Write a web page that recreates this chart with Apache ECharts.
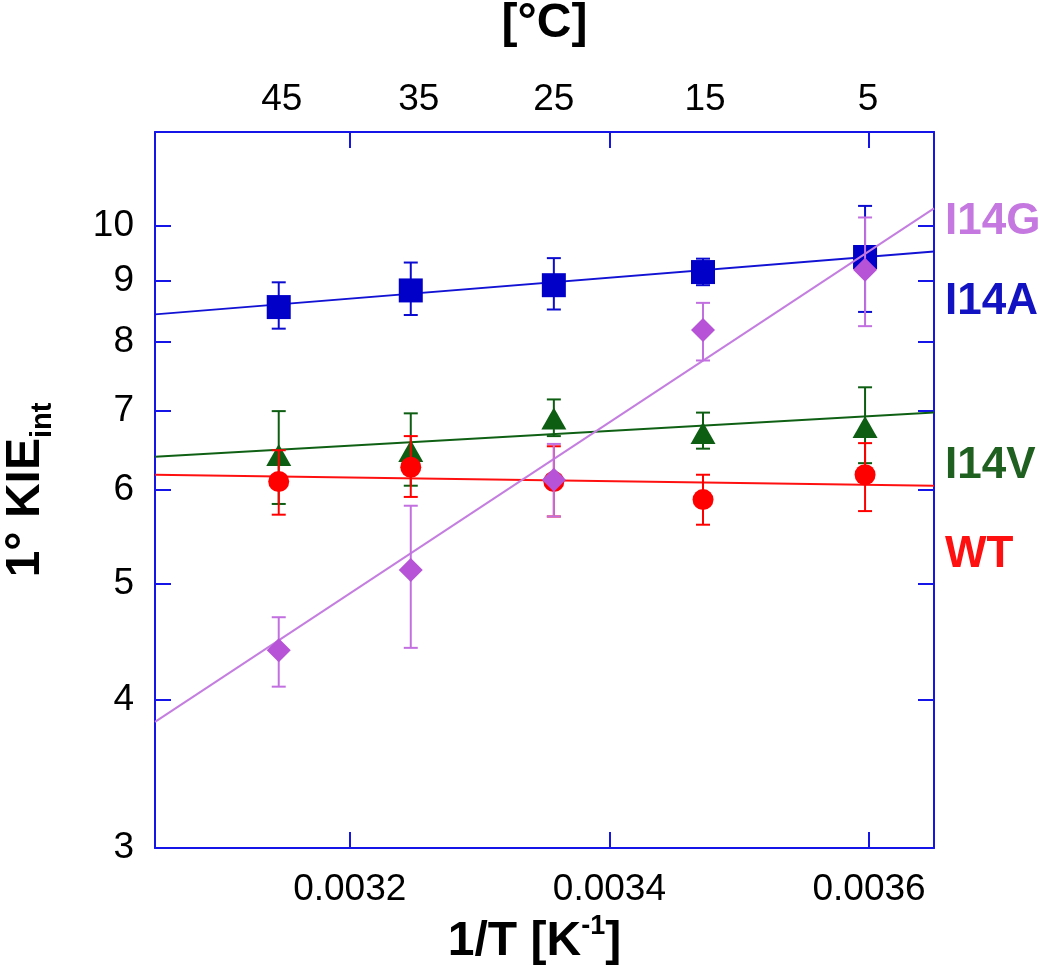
<!DOCTYPE html>
<html><head><meta charset="utf-8">
<script src="https://cdn.jsdelivr.net/npm/echarts@6/dist/echarts.min.js"></script>
<style>html,body{margin:0;padding:0;background:#fff}#c{width:1050px;height:974px}</style>
</head><body><div id="c"></div>
<script>
// ---- data ----
const invT = [0.0031453, 0.0032470, 0.0033572, 0.0034721, 0.0035969];
const celsiusLabels = ['45', '35', '25', '15', '5'];
const celsiusTickPos = [0.0031476, 0.0032532, 0.0033572, 0.0034736, 0.0035992];
const xTicks = [0.0032, 0.0034, 0.0036];
const yTicks = [3, 4, 5, 6, 7, 8, 9, 10];
const fitX = [0.00305, 0.00365];

const i14aKIE  = [8.55, 8.83, 8.92, 9.15, 9.42];
const i14aLow  = [8.20, 8.42, 8.51, 8.92, 8.47];
const i14aHigh = [8.97, 9.32, 9.40, 9.39, 10.40];
const i14aFit  = [8.43, 9.52];

const i14vKIE  = [6.42, 6.47, 6.89, 6.70, 6.78];
const i14vLow  = [5.84, 6.05, 6.66, 6.50, 6.32];
const i14vHigh = [6.99, 6.96, 7.15, 6.97, 7.32];
const i14vFit  = [6.40, 6.97];

const wtKIE  = [6.10, 6.27, 6.10, 5.89, 6.18];
const wtLow  = [5.72, 5.92, 5.70, 5.61, 5.76];
const wtHigh = [6.48, 6.66, 6.53, 6.18, 6.57];
const wtFit  = [6.18, 6.05];

const i14gKIE  = [4.40, 5.14, 6.12, 8.18, 9.19];
const i14gLow  = [4.10, 4.42, 5.70, 7.71, 8.24];
const i14gHigh = [4.69, 5.82, 6.56, 8.62, 10.17];
const i14gFit  = [3.83, 10.35];

// ---- styling ----
const F = '"Liberation Sans", Arial, sans-serif';
const AX = '#1515e8';

function zip(a, b) { return a.map((v, i) => [v, b[i]]); }
function errData(lo, hi) { return invT.map((x, i) => [x, lo[i], hi[i]]); }

function fitSeries(vals, color, z) {
  return { type: 'line', data: zip(fitX, vals), showSymbol: false, symbol: 'none',
    lineStyle: { color: color, width: 2 }, z: z, silent: true };
}
function errSeries(lo, hi, color, z) {
  return {
    type: 'custom', data: errData(lo, hi), z: z, silent: true,
    encode: { x: 0, y: [1, 2] },
    renderItem: function (params, api) {
      const x = api.value(0);
      const a = api.coord([x, api.value(1)]);
      const b = api.coord([x, api.value(2)]);
      const hw = 7;
      const st = { stroke: color, lineWidth: 2 };
      return { type: 'group', children: [
        { type: 'line', shape: { x1: a[0], y1: a[1], x2: b[0], y2: b[1] }, style: st },
        { type: 'line', shape: { x1: a[0] - hw, y1: a[1], x2: a[0] + hw, y2: a[1] }, style: st },
        { type: 'line', shape: { x1: b[0] - hw, y1: b[1], x2: b[0] + hw, y2: b[1] }, style: st }
      ]};
    }
  };
}
function markSeries(vals, color, symbol, size, z) {
  return { type: 'scatter', data: zip(invT, vals), symbol: symbol, symbolSize: size,
    itemStyle: { color: color, opacity: 1 }, z: z, silent: true };
}

const chart = echarts.init(document.getElementById('c'), null, { renderer: 'canvas' });

const tickStyle = { color: AX, width: 2 };
const lineSty = { color: AX, width: 2 };

chart.setOption({
  animation: false,
  backgroundColor: '#fff',
  grid: { left: 155, right: 116, top: 132, bottom: 126, containLabel: false, outerBoundsMode: 'none' },
  xAxis: [
    {
      type: 'value', position: 'bottom', min: 0.00305, max: 0.00365,
      axisLine: { show: true, lineStyle: lineSty },
      axisTick: { show: true, inside: true, length: 16, customValues: xTicks, lineStyle: tickStyle },
      axisLabel: { customValues: xTicks, formatter: v => v.toFixed(4), color: '#000', fontSize: 37, fontFamily: F, margin: 23 },
      splitLine: { show: false },
      name: '{a|1/T [K}{s|-1}{a|]}', nameLocation: 'middle', nameGap: 60,
      nameTextStyle: { padding: [0, 20, 0, 0], rich: {
        a: { fontSize: 48, fontWeight: 'bold', fontFamily: F, color: '#000', lineHeight: 58 },
        s: { fontSize: 27, fontWeight: 'bold', fontFamily: F, color: '#000', verticalAlign: 'top' }
      } }
    },
    {
      type: 'value', position: 'top', min: 0.00305, max: 0.00365,
      axisLine: { show: true, lineStyle: lineSty },
      axisTick: { show: true, inside: true, length: 16, customValues: xTicks, lineStyle: tickStyle },
      axisLabel: { customValues: celsiusTickPos, color: '#000', fontSize: 37, fontFamily: F, margin: 14,
        formatter: function (v) {
          let bi = 0, bd = Infinity;
          celsiusTickPos.forEach((p, i) => { const d = Math.abs(p - v); if (d < bd) { bd = d; bi = i; } });
          return celsiusLabels[bi];
        } },
      splitLine: { show: false },
      name: '[°C]', nameLocation: 'middle', nameGap: 84,
      nameTextStyle: { fontSize: 48, fontWeight: 'bold', fontFamily: F, color: '#000' }
    }
  ],
  yAxis: [
    {
      type: 'log', logBase: 10, position: 'left', min: 3, max: 12,
      axisLine: { show: true, lineStyle: lineSty },
      axisTick: { show: true, inside: true, length: 16, customValues: yTicks, lineStyle: tickStyle },
      axisLabel: { customValues: yTicks, color: '#000', fontSize: 37, fontFamily: F, margin: 21 },
      splitLine: { show: false },
      name: '{a|1° KIE}{b|int}', nameLocation: 'middle', nameRotate: 90, nameGap: 98,
      nameTextStyle: { rich: {
        a: { fontSize: 48, fontWeight: 'bold', fontFamily: F, color: '#000', lineHeight: 62 },
        b: { fontSize: 29, fontWeight: 'bold', fontFamily: F, color: '#000', verticalAlign: 'bottom' }
      } }
    },
    {
      type: 'log', logBase: 10, position: 'right', min: 3, max: 12,
      axisLine: { show: true, lineStyle: lineSty },
      axisTick: { show: true, inside: true, length: 16, customValues: yTicks, lineStyle: tickStyle },
      axisLabel: { show: false },
      splitLine: { show: false }
    }
  ],
  series: [
    fitSeries(i14aFit, '#1212d4', 2),
    errSeries(i14aLow, i14aHigh, '#0c0cd0', 3),
    markSeries(i14aKIE, '#0000c8', 'rect', 24, 4),

    fitSeries(i14vFit, '#0f6014', 5),
    errSeries(i14vLow, i14vHigh, '#0d5e12', 6),
    markSeries(i14vKIE, '#0d5e12', 'triangle', [25, 22], 7),

    fitSeries(wtFit, '#ff1010', 8),
    errSeries(wtLow, wtHigh, '#ff0000', 9),
    markSeries(wtKIE, '#ff0000', 'circle', 21, 10),

    fitSeries(i14gFit, '#c47ee0', 11),
    errSeries(i14gLow, i14gHigh, '#c270e0', 12),
    markSeries(i14gKIE, '#b653d6', 'diamond', [24, 24], 13)
  ],
  graphic: [
    { type: 'text', x: 945, y: 222, style: { text: 'I14G', font: 'bold 44px ' + F, fill: '#c478e0', verticalAlign: 'middle' } },
    { type: 'text', x: 945, y: 302, style: { text: 'I14A', font: 'bold 44px ' + F, fill: '#1212c2', verticalAlign: 'middle' } },
    { type: 'text', x: 945, y: 466, style: { text: 'I14V', font: 'bold 44px ' + F, fill: '#1f5f1f', verticalAlign: 'middle' } },
    { type: 'text', x: 945, y: 555, style: { text: 'WT', font: 'bold 44px ' + F, fill: '#ff1010', verticalAlign: 'middle' } }
  ]
});
</script>
</body></html>
